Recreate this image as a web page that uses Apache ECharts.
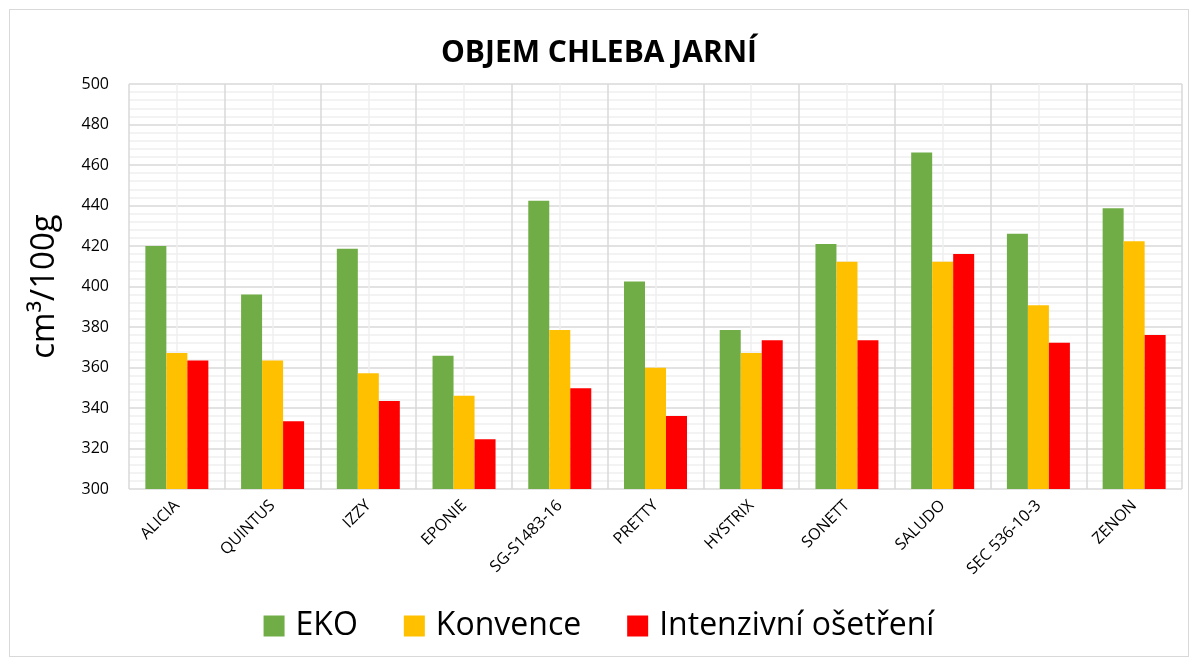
<!DOCTYPE html>
<html>
<head>
<meta charset="utf-8">
<script src="https://cdn.jsdelivr.net/npm/echarts@6/dist/echarts.min.js"></script>
<style>
  html, body { margin: 0; padding: 0; background: #fff; }
  #chart { position: absolute; left: 9px; top: 9px; width: 1180px; height: 648px; border: 1px solid #d9d9d9; box-sizing: border-box; }
</style>
</head>
<body>
<div id="chart"></div>
<script>
// odrůdy
var categories = ['ALICIA', 'QUINTUS', 'IZZY', 'EPONIE', 'SG-S1483-16', 'PRETTY', 'HYSTRIX', 'SONETT', 'SALUDO', 'SEC 536-10-3', 'ZENON']
var seriesNames = ['EKO', 'Konvence', 'Intenzivní ošetření']
var eko = [420, 396, 418.6, 365.8, 442.4, 402.5, 378.5, 421, 466.2, 426.1, 438.6]
var konvence = [367.2, 363.5, 357.1, 346, 378.5, 359.9, 367.2, 412.2, 412.2, 390.8, 422.3]
var intenzivni = [363.5, 333.5, 343.5, 324.6, 349.8, 336, 373.4, 373.4, 416.1, 372.2, 376]
var colors = ['#70AD47', '#FFC000', '#FF0000']

var chart = echarts.init(document.getElementById('chart'))
var font = '"Open Sans", "Noto Sans", sans-serif'

chart.setOption({
    animation: false,
    textStyle: { fontFamily: font },
    title: {
        text: 'OBJEM CHLEBA JARNÍ',
        left: 'center',
        top: 23,
        textStyle: { fontSize: 30, fontWeight: 'bold', color: '#000', fontFamily: font }
    },
    legend: {
        data: seriesNames,
        bottom: 9,
        left: 'center',
        itemWidth: 21,
        itemHeight: 21,
        itemGap: 46,
        icon: 'rect',
        textStyle: { fontSize: 32, color: '#000', fontFamily: font, padding: [0, 0, 0, 6] }
    },
    grid: { left: 119, right: 6, top: 74, bottom: 167 },
    xAxis: [{
        type: 'category',
        data: categories,
        axisLine: { show: false },
        axisTick: { show: false },
        splitLine: { show: false },
        axisLabel: { rotate: 45, fontSize: 16, color: '#000', margin: 14, interval: 0 }
    }, {
        type: 'value',
        min: 0,
        max: 11,
        interval: 1,
        show: true,
        axisLabel: { show: false },
        axisLine: { show: false },
        axisTick: { show: false },
        splitLine: { show: true, lineStyle: { color: '#d9d9d9', width: 1.5 } },
        minorTick: { show: false, splitNumber: 2 },
        minorSplitLine: { show: true, lineStyle: { color: '#f0f0f0', width: 1.5 } }
    }],
    yAxis: {
        type: 'value',
        min: 300,
        max: 500,
        interval: 20,
        name: 'cm³/100g',
        nameLocation: 'middle',
        nameGap: 68,
        nameTextStyle: { fontSize: 33, color: '#000', fontFamily: font },
        axisLine: { show: false },
        axisTick: { show: false },
        axisLabel: { fontSize: 16, color: '#000', margin: 20 },
        splitLine: { lineStyle: { color: '#d9d9d9', width: 1.5 } },
        minorTick: { show: false, splitNumber: 5 },
        minorSplitLine: { show: true, lineStyle: { color: '#f0f0f0', width: 1.5 } }
    },
    series: [
        { name: seriesNames[0], type: 'bar', data: eko, xAxisIndex: 0, barWidth: 21, barGap: '0%', itemStyle: { color: colors[0] } },
        { name: seriesNames[1], type: 'bar', data: konvence, xAxisIndex: 0, barWidth: 21, barGap: '0%', itemStyle: { color: colors[1] } },
        { name: seriesNames[2], type: 'bar', data: intenzivni, xAxisIndex: 0, barWidth: 21, barGap: '0%', itemStyle: { color: colors[2] } }
    ]
})
</script>
</body>
</html>
